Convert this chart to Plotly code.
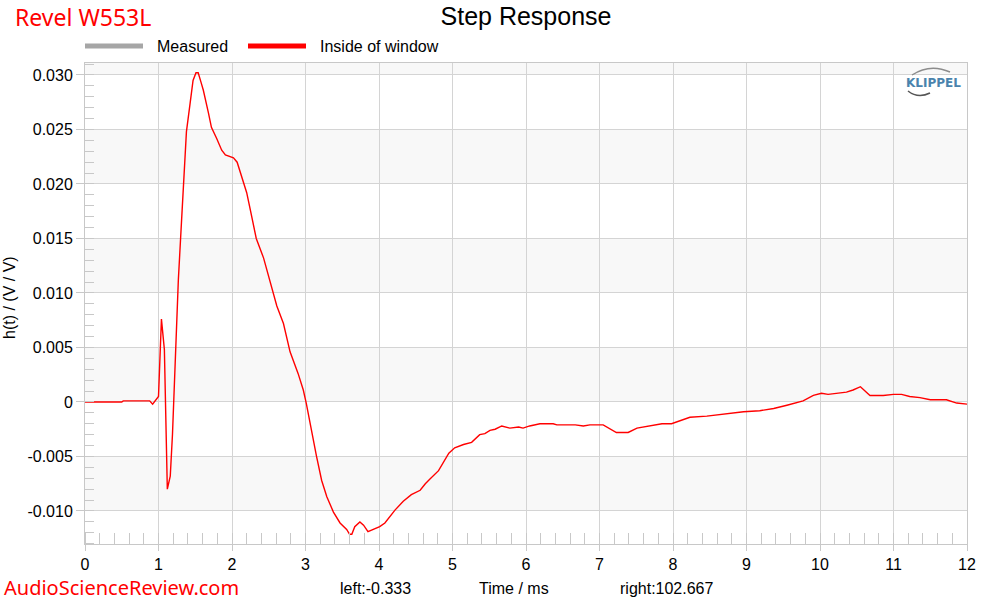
import plotly.graph_objects as go

# ---- data ----
time_ms = [0, 0.5, 0.52, 0.88, 0.92, 0.97, 1.00, 1.04, 1.08, 1.12, 1.16, 1.19, 1.22, 1.25, 1.27,
           1.315, 1.34, 1.38, 1.43, 1.47, 1.51, 1.54, 1.58, 1.61, 1.68, 1.72, 1.79, 1.86, 1.91,
           1.97, 2.02, 2.07, 2.13, 2.20, 2.25, 2.33, 2.43, 2.52, 2.56, 2.61, 2.70, 2.79, 2.90,
           2.97, 3.01, 3.08, 3.15, 3.22, 3.29, 3.38, 3.47, 3.56, 3.60, 3.63, 3.67, 3.74, 3.79,
           3.85, 3.92, 4.01, 4.08, 4.15, 4.22, 4.33, 4.44, 4.56, 4.63, 4.69, 4.81, 4.95, 5.03,
           5.15, 5.26, 5.37, 5.44, 5.51, 5.58, 5.67, 5.78, 5.90, 5.96, 6.05, 6.19, 6.37, 6.42,
           6.67, 6.78, 6.87, 7.05, 7.23, 7.39, 7.51, 7.69, 7.85, 7.98, 8.23, 8.46, 8.78, 8.96,
           9.18, 9.37, 9.55, 9.77, 9.91, 10.02, 10.11, 10.23, 10.36, 10.45, 10.55, 10.68, 10.86,
           11.00, 11.11, 11.22, 11.36, 11.50, 11.59, 11.72, 11.86, 12.0]
h_inside = [0, 0.0, 0.0001, 0.0001, -0.0002, 0.0002, 0.0005, 0.0076, 0.0048, -0.0080, -0.0068,
            -0.0030, 0.0030, 0.0085, 0.0112, 0.0168, 0.0204, 0.0248, 0.0274, 0.0295, 0.0302,
            0.0302, 0.0293, 0.0286, 0.0265, 0.0252, 0.0242, 0.0231, 0.02266, 0.0225, 0.0224,
            0.0220, 0.0208, 0.0192, 0.0176, 0.0150, 0.0132, 0.0110, 0.0099, 0.0088, 0.0072,
            0.0046, 0.0026, 0.0011, -0.0001, -0.0026, -0.0050, -0.0072, -0.0087, -0.0101,
            -0.0111, -0.0117, -0.01214, -0.01214, -0.01144, -0.0110, -0.0113, -0.0119, -0.01168,
            -0.01144, -0.0111, -0.0105, -0.0099, -0.0091, -0.0085, -0.0081, -0.0075, -0.0071,
            -0.0063, -0.0047, -0.0042, -0.0039, -0.0037, -0.0030, -0.0029, -0.0026, -0.0025,
            -0.0022, -0.0024, -0.0023, -0.0024, -0.0022, -0.0020, -0.0020, -0.0021, -0.0021,
            -0.0022, -0.0021, -0.0021, -0.0028, -0.0028, -0.0024, -0.0022, -0.0020, -0.0020,
            -0.0014, -0.0013, -0.0010, -0.0009, -0.0008, -0.0006, -0.0003, 0.0001, 0.0006,
            0.0008, 0.0007, 0.0008, 0.0009, 0.0011, 0.0014, 0.0006, 0.0006, 0.0007, 0.0007,
            0.0005, 0.0004, 0.0002, 0.0002, 0.0002, -0.0001, -0.0002]

x_ticks = list(range(0, 13))
y_tick_vals = [0.030, 0.025, 0.020, 0.015, 0.010, 0.005, 0, -0.005, -0.010]
y_tick_text = ["0.030", "0.025", "0.020", "0.015", "0.010", "0.005", "0", "-0.005", "-0.010"]
band_edges = [(0.030, 0.0311), (0.020, 0.025), (0.010, 0.015), (0.0, 0.005), (-0.010, -0.005)]
legend_names = ["Measured", "Inside of window"]
legend_colors = ["#a6a6a6", "#ff0000"]

FONT = "Liberation Sans, Arial, sans-serif"
BRAND = "Noto Sans, Open Sans, sans-serif"
W, H = 1000, 600
L, R, T, B = 85, 967, 63, 544


def px(xp):
    return (xp - L) / (R - L)


def py(yp):
    return (B - yp) / (B - T)


fig = go.Figure()
fig.add_trace(go.Scatter(x=time_ms, y=h_inside, mode="lines", name=legend_names[1],
                         line=dict(color=legend_colors[1], width=1.4), showlegend=False))

shapes = []
for lo, hi in band_edges:
    shapes.append(dict(type="rect", xref="paper", yref="y", x0=0, x1=1, y0=lo, y1=hi,
                       fillcolor="#f8f8f8", line=dict(width=0), layer="below"))

# legend (manual)
leg_y = py(46)
shapes.append(dict(type="line", xref="paper", yref="paper", x0=px(85), x1=px(143), y0=leg_y, y1=leg_y,
                   line=dict(color=legend_colors[0], width=5)))
shapes.append(dict(type="line", xref="paper", yref="paper", x0=px(248), x1=px(306), y0=leg_y, y1=leg_y,
                   line=dict(color=legend_colors[1], width=5)))
# Klippel logo arcs
shapes.append(dict(type="path", xref="paper", yref="paper",
                   path=f"M {px(912)},{py(75)} Q {px(930)},{py(63)} {px(950)},{py(72)}",
                   line=dict(color="#8c8c8c", width=1.5)))
shapes.append(dict(type="path", xref="paper", yref="paper",
                   path=f"M {px(908)},{py(91)} Q {px(918)},{py(99)} {px(930)},{py(93)}",
                   line=dict(color="#555555", width=1.5)))

annotations = [
    dict(text=legend_names[0], xref="paper", yref="paper", x=px(155), y=leg_y, xanchor="left",
         yanchor="middle", showarrow=False, font=dict(family=FONT, size=16, color="#000")),
    dict(text=legend_names[1], xref="paper", yref="paper", x=px(318), y=leg_y, xanchor="left",
         yanchor="middle", showarrow=False, font=dict(family=FONT, size=16, color="#000")),
    dict(text="Revel W553L", xref="paper", yref="paper", x=px(13), y=py(17), xanchor="left",
         yanchor="middle", showarrow=False, font=dict(family=BRAND, size=23, color="#ff0000")),
    dict(text="AudioScienceReview.com", xref="paper", yref="paper", x=px(3), y=py(587), xanchor="left",
         yanchor="middle", showarrow=False, borderpad=0,
         font=dict(family=BRAND, size=20, color="#ff0000")),
    dict(text="left:-0.333", xref="paper", yref="paper", x=px(375), y=py(588), xanchor="center",
         yanchor="middle", showarrow=False, font=dict(family=FONT, size=16, color="#000")),
    dict(text="Time / ms", xref="paper", yref="paper", x=px(514), y=py(588), xanchor="center",
         yanchor="middle", showarrow=False, font=dict(family=FONT, size=16, color="#000")),
    dict(text="right:102.667", xref="paper", yref="paper", x=px(667), y=py(588), xanchor="center",
         yanchor="middle", showarrow=False, font=dict(family=FONT, size=16, color="#000")),
    dict(text="h(t) / (V / V)", xref="paper", yref="paper", x=px(9), y=py(298), xanchor="center",
         yanchor="middle", textangle=-90, showarrow=False, font=dict(family=FONT, size=16, color="#000")),
    dict(text="<b>KLIPPEL</b>", xref="paper", yref="paper", x=px(933), y=py(83), xanchor="center",
         yanchor="middle", showarrow=False, font=dict(family="DejaVu Sans, sans-serif", size=12, color="#4a83ad")),
]

fig.update_layout(
    width=W, height=H,
    margin=dict(l=L, r=W - R, t=T, b=H - B, pad=0),
    paper_bgcolor="white", plot_bgcolor="white",
    title=dict(text="Step Response", x=0.5, xref="paper", xanchor="center", y=1 - 16 / H, yanchor="middle",
               font=dict(family=FONT, size=25, color="#000")),
    showlegend=False,
    shapes=shapes,
    annotations=annotations,
    xaxis=dict(range=[0, 12], tickvals=x_ticks, ticktext=[str(v) for v in x_ticks],
               showgrid=True, gridcolor="#d4d4d4", gridwidth=1, zeroline=False,
               showline=True, linecolor="#c8c8c8", linewidth=1, mirror=True,
               ticks="outside", ticklen=6, tickcolor="#c8c8c8",
               minor=dict(dtick=0.2, ticks="inside", ticklen=11, tickcolor="#c8c8c8", showgrid=False),
               tickfont=dict(family=FONT, size=16, color="#000")),
    yaxis=dict(range=[-0.01303, 0.0311], tickvals=y_tick_vals, ticktext=y_tick_text,
               showgrid=True, gridcolor="#d4d4d4", gridwidth=1, zeroline=False,
               showline=True, linecolor="#c8c8c8", linewidth=1, mirror=True,
               ticks="outside", ticklen=8, tickcolor="#c8c8c8",
               minor=dict(dtick=0.001, tick0=0, ticks="inside", ticklen=9, tickcolor="#c8c8c8", showgrid=False),
               tickfont=dict(family=FONT, size=16, color="#000")),
)

fig.write_html("out.html", config={"displayModeBar": False},
               post_script="document.body.style.margin='0';document.body.style.overflow='hidden';")
